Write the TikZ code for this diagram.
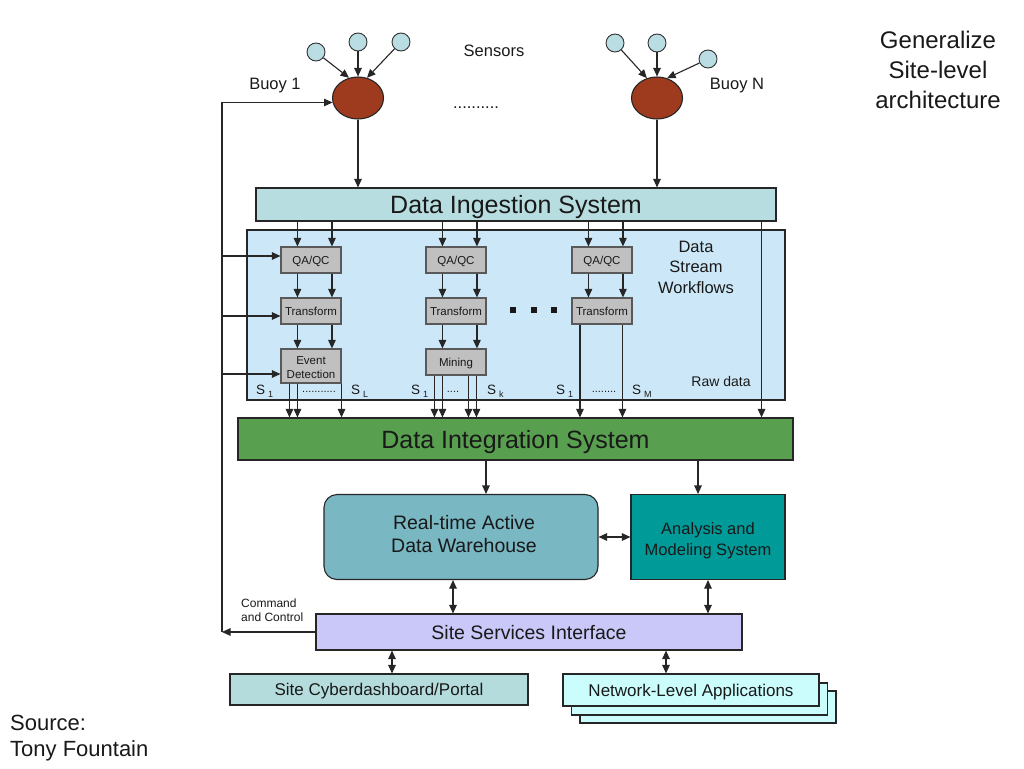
\documentclass[tikz,border=0pt]{standalone}
\usepackage{fontspec}
\setmainfont{Liberation Sans}
\usetikzlibrary{arrows.meta,shapes.geometric}
\definecolor{sensc}{HTML}{B9DDE2}
\definecolor{buoyc}{HTML}{9E3A1E}
\definecolor{ingc}{HTML}{B7DDE0}
\definecolor{dswc}{HTML}{CCE8F8}
\definecolor{grayc}{HTML}{C0C0C0}
\definecolor{disc}{HTML}{58A04F}
\definecolor{whc}{HTML}{79B7C3}
\definecolor{amc}{HTML}{009A99}
\definecolor{ssic}{HTML}{C9C8F8}
\definecolor{cyc}{HTML}{B5DCDC}
\definecolor{netc}{HTML}{CCFDFD}
\newcommand{\myfs}[1]{\fontsize{#1}{#1}\selectfont}
\newcommand{\slab}[1]{S\hspace{3pt}\raisebox{-3pt}{\fontsize{9}{9}\selectfont #1}}
\begin{document}
\begin{tikzpicture}[x=1pt,y=-1pt,
  box/.style={draw=black!85, line width=1.1pt, inner sep=0pt, align=center, text=black!90},
  one/.style={text depth=0pt},
  arr/.style={-{Triangle[length=8.5pt,width=7.5pt]}, line width=1.1pt, draw=black!85},
  darr/.style={{Triangle[length=8.5pt,width=7.5pt]}-{Triangle[length=8.5pt,width=7.5pt]}, line width=1.1pt, draw=black!85},
  gbox/.style={box, fill=grayc, draw=black!65, minimum width=60pt, font=\myfs{11.5}},
  sens/.style={circle, draw=black!80, fill=sensc, minimum size=18pt, inner sep=0pt, line width=0.9pt},
  buoy/.style={ellipse, draw=black!85, fill=buoyc, minimum width=51pt, minimum height=42pt, inner sep=0pt, line width=1.1pt},
  lbl/.style={inner sep=0pt, text=black!90}]
\useasboundingbox (0,0) rectangle (1024,768);

% sensors and buoys
\node[sens] (s1) at (316,52) {};
\node[sens] (s2) at (358,42) {};
\node[sens] (s3) at (401,42) {};
\node[buoy] (b1) at (358,98) {};
\node[sens] (s4) at (615,43) {};
\node[sens] (s5) at (657,43) {};
\node[sens] (s6) at (708,59) {};
\node[buoy] (bn) at (657,98) {};
\draw[arr] (s1) -- (b1.114);
\draw[arr] (s2) -- (b1.north);
\draw[arr] (s3) -- (b1.66);
\draw[arr] (s4) -- (bn.117);
\draw[arr] (s5) -- (bn.north);
\draw[arr] (s6) -- (bn.63);

\node[lbl, font=\myfs{16.5}, one] (sensors) at (494,51) {Sensors};
\node[lbl, font=\myfs{16.5}, one] (buoy1l) at (275,84) {Buoy 1};
\node[lbl, font=\myfs{16.5}, one] (buoynl) at (737,84) {Buoy N};
\node[lbl, font=\myfs{16.5}, anchor=base] (dots) at (476,108) {..........};

% ingestion
\node[box, one, fill=ingc, minimum width=520pt, minimum height=33pt, font=\myfs{25}] (ing) at (516,204.5) {Data Ingestion System};
\draw[arr] (b1.south) -- (b1.south |- ing.north);
\draw[arr] (bn.south) -- (bn.south |- ing.north);

% data stream workflows
\node[box, fill=dswc, minimum width=538pt, minimum height=170pt] (dsw) at (516,315) {};
\node[lbl, font=\fontsize{16.5}{20.5}\selectfont, align=center] (dswl) at (696,267) {Data\\Stream\\Workflows};
\node[lbl, font=\myfs{14}, one] (rawl) at (721,381) {Raw data};

\node[gbox, one, minimum height=26pt] (qa1) at (311,260) {QA/QC};
\node[gbox, one, minimum height=26pt] (qa2) at (456,260) {QA/QC};
\node[gbox, one, minimum height=26pt] (qa3) at (602,260) {QA/QC};
\node[gbox, one, minimum height=26pt] (t1) at (311,311) {Transform};
\node[gbox, one, minimum height=26pt] (t2) at (456,311) {Transform};
\node[gbox, one, minimum height=26pt] (t3) at (602,311) {Transform};
\node[gbox, minimum height=34pt] (ed) at (311,366) {};
\node[lbl, font=\fontsize{11.5}{14}\selectfont, align=center] (edl) at ([yshift=-2pt]ed.center) {Event\\Detection};
\node[gbox, one, minimum height=26pt] (mi) at (456,362) {Mining};

\foreach \n in {qa1,qa2,qa3,t1,t2,t3,ed,mi} {
  \coordinate (\n-a) at ([xshift=17pt]\n.north west);
  \coordinate (\n-b) at ([xshift=51.5pt]\n.north west);
}
\foreach \q in {qa1,qa2,qa3} {
  \draw[arr] (\q-a |- ing.south) -- (\q-a);
  \draw[arr] (\q-b |- ing.south) -- (\q-b);
}
\draw[arr] (qa1-a |- qa1.south) -- (t1-a);
\draw[arr] (qa1-b |- qa1.south) -- (t1-b);
\draw[arr] (qa2-a |- qa2.south) -- (t2-a);
\draw[arr] (qa2-b |- qa2.south) -- (t2-b);
\draw[arr] (qa3-a |- qa3.south) -- (t3-a);
\draw[arr] (qa3-b |- qa3.south) -- (t3-b);
\draw[arr] (t1-a |- t1.south) -- (ed-a);
\draw[arr] (t1-b |- t1.south) -- (ed-b);
\draw[arr] (t2-a |- t2.south) -- (mi-a);
\draw[arr] (t2-b |- t2.south) -- (mi-b);

% big ellipsis squares
\foreach \x in {513,534,554} \fill[black!90] (\x-3,307) rectangle (\x+3,313);

% integration
\node[box, one, fill=disc, minimum width=555pt, minimum height=42pt, font=\myfs{25}] (dis) at (515.5,439) {Data Integration System};

\coordinate (edo1) at ([xshift=9pt]ed.south west);
\coordinate (edo2) at ([xshift=17pt]ed.south west);
\coordinate (edo3) at (ed.south east);
\coordinate (mio1) at ([xshift=9pt]mi.south west);
\coordinate (mio2) at ([xshift=17pt]mi.south west);
\coordinate (mio3) at ([xshift=43pt]mi.south west);
\coordinate (mio4) at ([xshift=51pt]mi.south west);
\coordinate (t3o1) at ([xshift=8.5pt]t3.south west);
\coordinate (t3o2) at ([xshift=51pt]t3.south west);
\coordinate (raw) at ([xshift=-15pt]ing.south east);
\foreach \c in {edo1,edo2,edo3,mio1,mio2,mio3,mio4,t3o1,t3o2,raw}
  \draw[arr] (\c) -- (\c |- dis.north);

% stream labels
\node[lbl, font=\myfs{13.5}, anchor=base west] (l1) at (256,394) {\slab{1}};
\node[lbl, font=\myfs{11}, anchor=base] (d1) at (319,392) {...........};
\node[lbl, font=\myfs{13.5}, anchor=base west] (l2) at (351,394) {\slab{L}};
\node[lbl, font=\myfs{13.5}, anchor=base west] (l3) at (411,394) {\slab{1}};
\node[lbl, font=\myfs{11}, anchor=base] (d2) at (453,392) {....};
\node[lbl, font=\myfs{13.5}, anchor=base west] (l4) at (487,394) {\slab{k}};
\node[lbl, font=\myfs{13.5}, anchor=base west] (l5) at (556,394) {\slab{1}};
\node[lbl, font=\myfs{11}, anchor=base] (d3) at (604,392) {........};
\node[lbl, font=\myfs{13.5}, anchor=base west] (l6) at (632,394) {\slab{M}};

% warehouse and analysis
\node[box, fill=whc, rounded corners=13pt, minimum width=274pt, minimum height=85pt] (wh) at (461,537) {};
\node[lbl, font=\fontsize{19.5}{23}\selectfont, align=center] (whl) at ([xshift=3pt,yshift=3pt]wh.center) {Real-time Active\\Data Warehouse};
\node[box, fill=amc, minimum width=154pt, minimum height=85pt] (am) at (708,537) {};
\node[lbl, font=\fontsize{16.5}{21}\selectfont, align=center] (aml) at ([yshift=-4pt]am.center) {Analysis and\\Modeling System};
\coordinate (wha) at ([xshift=25pt]wh.north);
\coordinate (ama) at ([xshift=-10pt]am.north);
\draw[arr] (wha |- dis.south) -- (wha);
\draw[arr] (ama |- dis.south) -- (ama);
\draw[darr] (wh.east) -- (am.west);

% site services
\node[box, one, fill=ssic, minimum width=426pt, minimum height=36pt, font=\myfs{19.5}] (ssi) at (529,632) {Site Services Interface};
\coordinate (whs) at ([xshift=-8pt]wh.south);
\draw[darr] (whs) -- (whs |- ssi.north);
\draw[darr] (am.south) -- (am.south |- ssi.north);

% bottom boxes
\node[box, one, fill=cyc, minimum width=298pt, minimum height=31pt, font=\myfs{17}] (cy) at (379,689.5) {Site Cyberdashboard/Portal};
\node[box, fill=netc, minimum width=256pt, minimum height=32pt] (net3) at (708,707) {};
\node[box, fill=netc, minimum width=256pt, minimum height=32pt] (net2) at (699.5,699) {};
\node[box, one, fill=netc, minimum width=256pt, minimum height=32pt, font=\myfs{17}] (net1) at (691,690) {Network-Level Applications};
\coordinate (cyn) at ([xshift=13pt]cy.north);
\coordinate (nen) at ([xshift=-25pt]net1.north);
\draw[darr] (cyn |- ssi.south) -- (cyn);
\draw[darr] (nen |- ssi.south) -- (nen);

% command and control feedback
\coordinate (fbx) at (222,0);
\draw[arr] (ssi.west) -- (ssi.west -| fbx);
\draw[arr] (ssi.west -| fbx) -- (b1.190 -| fbx) -- (b1.190);
\coordinate (qa1w) at ([yshift=4pt]qa1.west);
\coordinate (t1w) at ([yshift=-5pt]t1.west);
\coordinate (edw) at ([yshift=-8pt]ed.west);
\foreach \c in {qa1w,t1w,edw}
  \draw[arr] (\c -| fbx) -- (\c);
\node[lbl, font=\fontsize{12}{14}\selectfont, align=left, anchor=west] (cmd) at (241,610) {Command\\and Control};

% titles
\node[lbl, font=\fontsize{24}{30}\selectfont, align=center] (gen) at (938,70) {Generalize\\Site-level\\architecture};
\node[lbl, font=\fontsize{22}{26}\selectfont, align=left, anchor=west] (src) at (10,738) {Source:\\Tony Fountain};
\end{tikzpicture}
\end{document}
